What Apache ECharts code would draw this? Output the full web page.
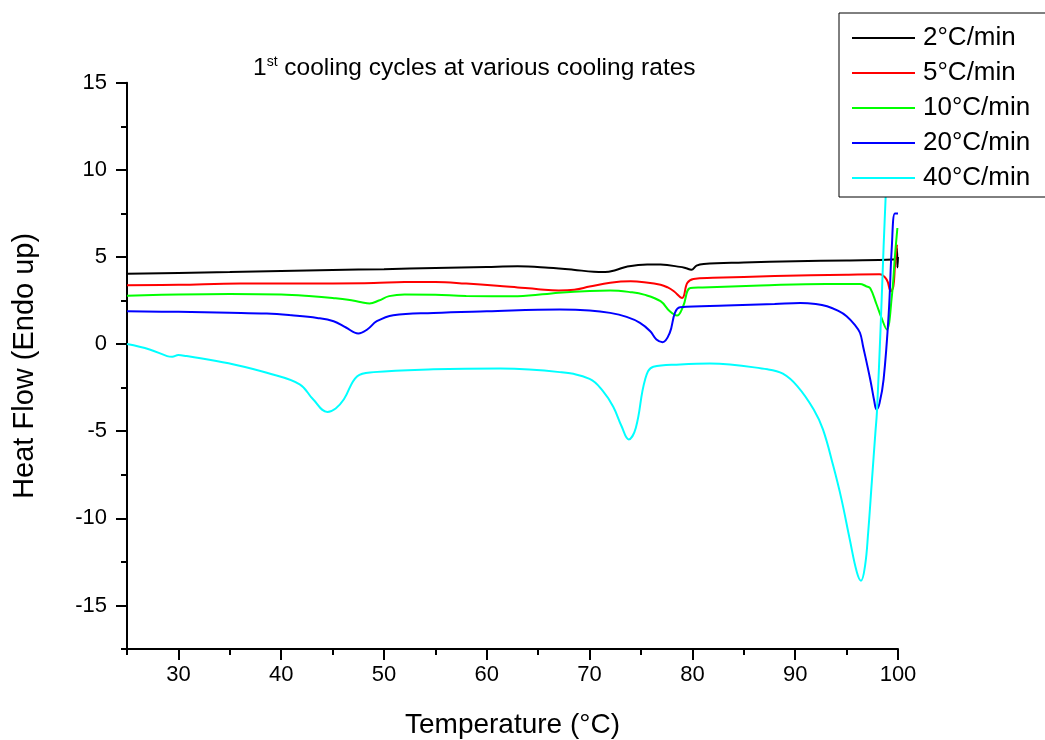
<!DOCTYPE html>
<html>
<head>
<meta charset="utf-8">
<script src="https://cdn.jsdelivr.net/npm/echarts@6/dist/echarts.min.js"></script>
<style>
  html, body { margin: 0; padding: 0; background: #ffffff; }
  #chart { width: 1045px; height: 740px; }
</style>
</head>
<body>
<div id="chart"></div>
<script>
// DSC cooling scans: [temperature °C, heat flow]
const rateNames = ['2°C/min', '5°C/min', '10°C/min', '20°C/min', '40°C/min'];
const rateColors = ['#000000', '#ff0000', '#00ff00', '#0000ff', '#00ffff'];

const flow2 = [
  [25, 4.03], [30, 4.08], [35, 4.13], [40, 4.2], [45, 4.25], [50, 4.3], [55, 4.37],
  [60, 4.43], [63, 4.46], [66, 4.38], [68.4, 4.27], [70.4, 4.15], [71.5, 4.14],
  [72.5, 4.24], [73.6, 4.44], [75.6, 4.57], [76.9, 4.56], [78.8, 4.43], [79.4, 4.35],
  [79.9, 4.27], [80.4, 4.5], [81.1, 4.6], [85, 4.68], [90, 4.75], [95, 4.8],
  [99.5, 4.85], [99.8, 4.9], [99.9, 5.5], [99.95, 4.4], [100, 5.0]
];
const flow5 = [
  [25, 3.37], [30, 3.4], [36, 3.48], [45, 3.48], [49, 3.5], [52, 3.56], [55, 3.56],
  [58, 3.47], [61, 3.35], [63, 3.25], [65, 3.15], [67, 3.08], [68.5, 3.12], [70, 3.3],
  [72, 3.52], [74, 3.6], [75.3, 3.55], [76.9, 3.41], [77.6, 3.25], [78.2, 3.03],
  [79.0, 2.65], [79.5, 3.5], [80.1, 3.74], [82, 3.8], [88, 3.9], [95, 3.98],
  [98.2, 4.0], [98.9, 3.7], [99.3, 3.03], [99.55, 3.32], [99.7, 4.46], [99.9, 5.7]
];
const flow10 = [
  [25, 2.78], [30, 2.85], [35, 2.88], [40, 2.85], [43, 2.75], [45, 2.65], [46.5, 2.55],
  [47.8, 2.4], [48.6, 2.33], [49.5, 2.5], [50.5, 2.75], [52, 2.85], [55, 2.83],
  [58, 2.76], [63, 2.75], [67, 2.95], [70, 3.05], [72, 3.07], [74, 2.98], [75.3, 2.84],
  [76.9, 2.46], [77.8, 1.88], [78.5, 1.64], [79.1, 2.17], [79.8, 3.22], [81, 3.25],
  [86.6, 3.36], [93, 3.45], [96.3, 3.45], [96.9, 3.32], [97.3, 3.2], [97.9, 2.3],
  [98.4, 1.5], [98.9, 0.84], [99.4, 2.74], [99.7, 5.03], [99.94, 6.66]
];
const flow20 = [
  [25, 1.88], [30, 1.85], [35, 1.8], [38.6, 1.75], [41, 1.65], [43.5, 1.5], [45.1, 1.31],
  [46.3, 0.95], [47.5, 0.61], [48.4, 0.85], [49.3, 1.31], [50.9, 1.66], [54.8, 1.79],
  [60, 1.88], [67.1, 1.98], [70, 1.93], [72, 1.79], [73.6, 1.56], [74.9, 1.22],
  [75.9, 0.74], [76.5, 0.26], [77.1, 0.11], [77.8, 0.65], [78.3, 1.79], [78.8, 2.11],
  [83.3, 2.21], [88, 2.3], [90.5, 2.36], [92, 2.3], [93.1, 2.17], [94.2, 1.9], [95, 1.6],
  [95.8, 1.1], [96.3, 0.65], [96.6, -0.12], [97.3, -2.03], [97.7, -3.3], [97.9, -3.75],
  [98.2, -3.4], [98.6, -2.03], [99.1, 1.79], [99.4, 5.6], [99.7, 7.5], [100, 7.5]
];
const flow40 = [
  [25, 0.0], [27.2, -0.31], [28.9, -0.69], [29.4, -0.73], [30.0, -0.63], [30.8, -0.69],
  [32, -0.8], [35.4, -1.17], [38.6, -1.65], [41.8, -2.31], [43.1, -3.17], [44.5, -3.9],
  [45.3, -3.7], [46.1, -3.17], [47.4, -1.84], [49, -1.61], [54.8, -1.45], [61.3, -1.4],
  [67.1, -1.61], [70, -2.0], [71.3, -2.7], [72.3, -3.6], [73.1, -4.7], [73.8, -5.47],
  [74.5, -4.8], [75.4, -2.03], [76.2, -1.3], [78.8, -1.17], [81.7, -1.11], [87.3, -1.45],
  [88.8, -1.7], [90.2, -2.41], [91.8, -3.75], [92.7, -4.9], [93.7, -6.99], [94.5, -8.9],
  [95.3, -11.19], [96.0, -13.1], [96.4, -13.58], [96.8, -12.7], [97.1, -10.8],
  [97.45, -7.94], [97.8, -5.08], [97.95, -3.9], [98.3, 0.84], [98.6, 5.6], [98.8, 8.47],
  [99.3, 16]
];
const rateFlows = [flow2, flow5, flow10, flow20, flow40];

const xTickValues = [30, 40, 50, 60, 70, 80, 90, 100];
const yTickValues = [-15, -10, -5, 0, 5, 10, 15];

const FONT = '"Liberation Sans", Arial, sans-serif';

const chart = echarts.init(document.getElementById('chart'), null, { renderer: 'canvas' });

const series = rateNames.map((name, i) => ({
  name: name,
  type: 'line',
  data: rateFlows[i],
  xAxisIndex: 0,
  yAxisIndex: 0,
  symbol: 'none',
  smooth: 0.4,
  clip: true,
  lineStyle: { color: rateColors[i], width: 2 },
  itemStyle: { color: rateColors[i] },
  animation: false
}));

const option = {
  animation: false,
  backgroundColor: '#ffffff',
  title: {
    left: 253,
    top: 55,
    padding: 0,
    text: '{n|1}{s|st}{n| cooling cycles at various cooling rates}',
    textStyle: {
      fontWeight: 'normal',
      rich: {
        n: { fontSize: 24.5, fontWeight: 'normal', fontFamily: FONT, color: '#000', lineHeight: 26 },
        s: { fontSize: 14, fontWeight: 'normal', fontFamily: FONT, color: '#000', verticalAlign: 'top', lineHeight: 14 }
      }
    }
  },
  legend: {
    orient: 'vertical',
    left: 839,
    top: 13,
    padding: [10, 60, 4, 13],
    icon: 'rect',
    itemWidth: 63,
    itemHeight: 2,
    itemGap: 5,
    backgroundColor: '#ffffff',
    borderColor: '#000000',
    borderWidth: 1,
    borderRadius: 0,
    textStyle: { fontSize: 26, lineHeight: 30, color: '#000', fontFamily: FONT, padding: [0, 0, 0, 3] },
    data: rateNames
  },
  grid: {
    left: 127, right: 147, top: 82.7, bottom: 91,
    containLabel: false,
    outerBoundsMode: 'none'
  },
  xAxis: [
    {
      type: 'value', min: 25, max: 100, position: 'bottom',
      axisLine: { onZero: false, lineStyle: { color: '#000', width: 2 } },
      axisTick: { customValues: xTickValues, length: 11, lineStyle: { color: '#000', width: 2 } },
      axisLabel: { customValues: xTickValues, fontSize: 22, color: '#000', fontFamily: FONT, margin: 15 },
      splitLine: { show: false },
      name: 'Temperature (°C)', nameLocation: 'middle', nameGap: 62,
      nameTextStyle: { fontSize: 28, color: '#000', fontFamily: FONT }
    },
    {
      type: 'value', min: 25, max: 100, interval: 5, position: 'bottom',
      axisLine: { show: false, onZero: false },
      axisTick: { length: 6, lineStyle: { color: '#000', width: 2 } },
      axisLabel: { show: false },
      splitLine: { show: false }
    }
  ],
  yAxis: [
    {
      type: 'value', min: -17.5, max: 15, position: 'left',
      axisLine: { show: true, onZero: false, lineStyle: { color: '#000', width: 2 } },
      axisTick: { show: true, customValues: yTickValues, length: 11, lineStyle: { color: '#000', width: 2 } },
      axisLabel: { customValues: yTickValues, fontSize: 22, color: '#000', fontFamily: FONT, margin: 20 },
      splitLine: { show: false },
      name: 'Heat Flow (Endo up)', nameLocation: 'middle', nameGap: 88, nameRotate: 90,
      nameTextStyle: { fontSize: 29, color: '#000', fontFamily: FONT }
    },
    {
      type: 'value', min: -17.5, max: 15, interval: 2.5, position: 'left',
      axisLine: { show: false, onZero: false },
      axisTick: { show: true, length: 6, lineStyle: { color: '#000', width: 2 } },
      axisLabel: { show: false },
      splitLine: { show: false }
    }
  ],
  series: series
};

chart.setOption(option);
</script>
</body>
</html>
